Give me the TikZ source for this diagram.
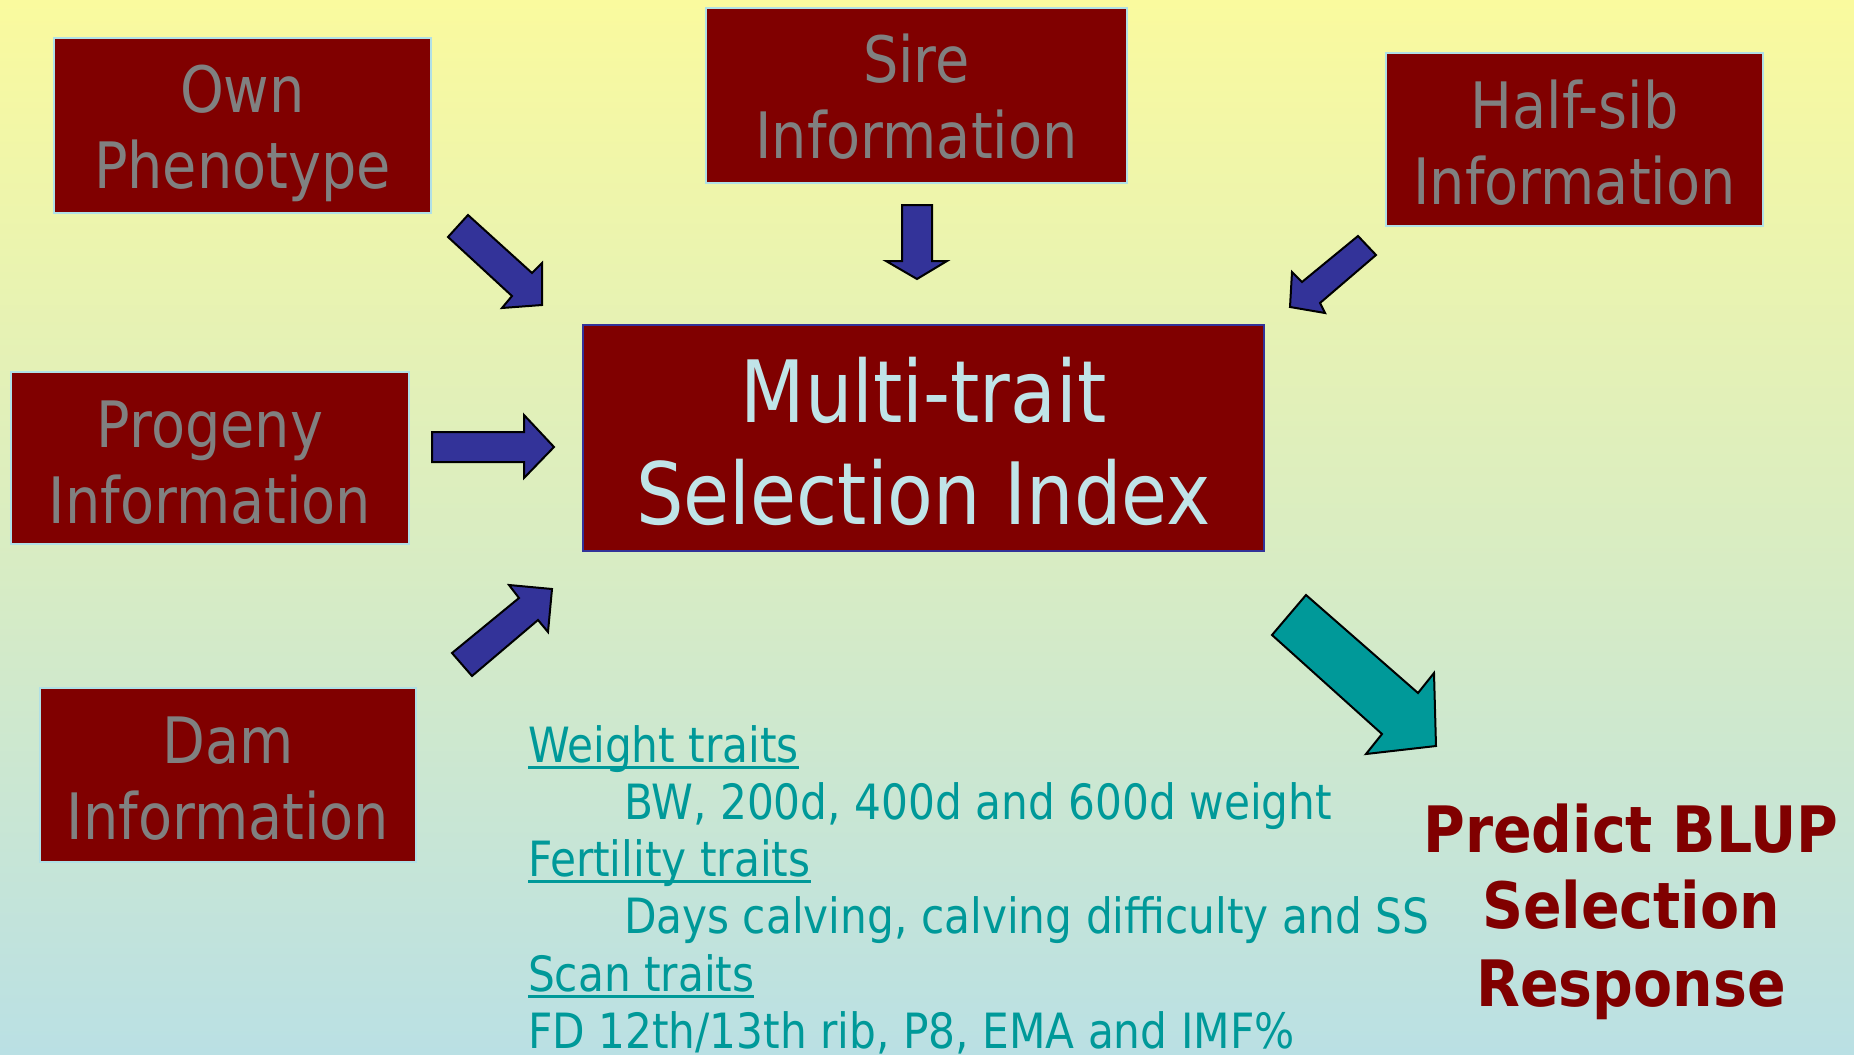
\documentclass[tikz,border=0pt]{standalone}
\usepackage{fontspec}
\usetikzlibrary{fit}
\newfontfamily\slidefont{DejaVu Sans}[FakeStretch=0.87]
\newfontfamily\slidebold{DejaVu Sans}[FakeStretch=0.89]
\definecolor{bgtop}{RGB}{250,250,158}
\definecolor{bgbot}{RGB}{186,224,228}
\definecolor{boxred}{RGB}{128,0,0}
\definecolor{boxedge}{RGB}{176,224,230}
\definecolor{textgrey}{RGB}{128,128,128}
\definecolor{textpale}{RGB}{192,228,232}
\definecolor{arrowblue}{RGB}{51,51,153}
\definecolor{teal}{RGB}{0,153,153}
\begin{document}
\begin{tikzpicture}[x=0.5pt,y=-0.5pt,
  infobox/.style={draw=boxedge, line width=0.8pt, fill=boxred, inner sep=0pt, outer sep=0pt},
  indexbox/.style={draw=arrowblue, line width=1pt, fill=boxred, inner sep=0pt, outer sep=0pt},
  boxtext/.style={text=textgrey, inner sep=0pt, outer sep=0pt, anchor=base,
    font=\slidefont\fontsize{32}{38}\selectfont},
  indextext/.style={text=textpale, inner sep=0pt, outer sep=0pt, anchor=base,
    font=\slidefont\fontsize{43}{51}\selectfont},
  listtext/.style={text=teal, inner sep=0pt, outer sep=0pt, anchor=base west,
    font=\slidefont\fontsize{24.3}{29}\selectfont},
  resulttext/.style={text=boxred, inner sep=0pt, outer sep=0pt, anchor=base,
    font=\slidebold\bfseries\fontsize{32}{38}\selectfont},
  ul/.style={draw=teal, line width=1.4pt},
  bluearrow/.style={draw=black, line width=1pt, line join=miter, fill=arrowblue},
  tealarrow/.style={draw=black, line width=1pt, line join=miter, fill=teal}]

\useasboundingbox (0,0) rectangle (1854,1055);
\shade[top color=bgtop, bottom color=bgbot] (0,0) rectangle (1854,1055);

% information sources
\node[infobox, fit={(54,38) (431,213)}] (own) {};
\node[boxtext] (own-1) at (242.5,112) {Own};
\node[boxtext] (own-2) at (242.5,188) {Phenotype};

\node[infobox, fit={(706,8) (1127,183)}] (sire) {};
\node[boxtext] (sire-1) at (916.5,82) {Sire};
\node[boxtext] (sire-2) at (916.5,158) {Information};

\node[infobox, fit={(1386,53) (1763,226)}] (halfsib) {};
\node[boxtext] (halfsib-1) at (1574.5,128) {Half-sib};
\node[boxtext] (halfsib-2) at (1574.5,204) {Information};

\node[infobox, fit={(11,372) (409,544)}] (progeny) {};
\node[boxtext] (progeny-1) at (210,447) {Progeny};
\node[boxtext] (progeny-2) at (210,523) {Information};

\node[infobox, fit={(40,688) (416,862)}] (dam) {};
\node[boxtext] (dam-1) at (228,763) {Dam};
\node[boxtext] (dam-2) at (228,839) {Information};

% the index
\node[indexbox, fit={(583,325) (1264,551)}] (index) {};
\node[indextext] (index-1) at (923.5,422) {Multi-trait};
\node[indextext] (index-2) at (923.5,524) {Selection Index};

% block arrows into the index
\draw[bluearrow] (448,237) -- (468,215) -- (532,273) -- (542,263) -- (542,305) -- (502,308) -- (512,296) -- cycle;
\draw[bluearrow] (902,205) -- (932,205) -- (932,261) -- (947,261) -- (917,279) -- (886,261) -- (902,261) -- cycle;
\draw[bluearrow] (1358,236) -- (1376,255) -- (1320,303) -- (1325,313) -- (1290,307) -- (1292,272) -- (1302,282) -- cycle;
\draw[bluearrow] (432,432) -- (524,432) -- (524,415) -- (554,447) -- (524,478) -- (524,462) -- (432,462) -- cycle;
\draw[bluearrow] (452,653) -- (472,676) -- (538,620) -- (548,632) -- (552,589) -- (509,585) -- (519,598) -- cycle;

% block arrow out of the index
\draw[tealarrow] (1272,635) -- (1306,595) -- (1418,693) -- (1434,673) -- (1436,746) -- (1366,754) -- (1382,734) -- cycle;

% trait groups
\node[listtext] (wt) at (528,762) {Weight traits};
\node[listtext] (wt-d) at (624,819) {BW, 200d, 400d and 600d weight};
\node[listtext] (ft) at (528,876) {Fertility traits};
\node[listtext] (ft-d) at (624,933) {Days calving, calving difficulty and SS};
\node[listtext] (sc) at (528,991) {Scan traits};
\node[listtext] (sc-d) at (528,1048) {FD 12th/13th rib, P8, EMA and IMF\%};
\foreach \n in {wt,ft,sc}
  \draw[ul] ([yshift=-2.6pt]\n.base west) -- ([yshift=-2.6pt]\n.base east);

% outcome
\node[resulttext] (res-1) at (1631,852) {Predict BLUP};
\node[resulttext] (res-2) at (1631,928) {Selection};
\node[resulttext] (res-3) at (1631,1006) {Response};
\end{tikzpicture}
\end{document}
